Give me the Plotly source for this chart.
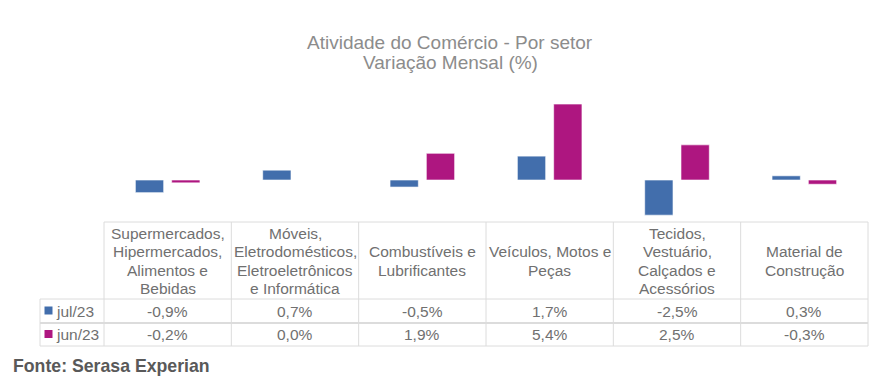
import plotly.graph_objects as go

# ---- data ----
categories = [
    "Supermercados, Hipermercados, Alimentos e Bebidas",
    "Móveis, Eletrodomésticos, Eletroeletrônicos e Informática",
    "Combustíveis e Lubrificantes",
    "Veículos, Motos e Peças",
    "Tecidos, Vestuário, Calçados e Acessórios",
    "Material de Construção",
]
category_labels = [
    ["Supermercados,", "Hipermercados,", "Alimentos e", "Bebidas"],
    ["Móveis,", "Eletrodomésticos,", "Eletroeletrônicos", "e Informática"],
    ["Combustíveis e", "Lubrificantes"],
    ["Veículos, Motos e", "Peças"],
    ["Tecidos,", "Vestuário,", "Calçados e", "Acessórios"],
    ["Material de", "Construção"],
]
series_names = ["jul/23", "jun/23"]
jul23 = [-0.9, 0.7, -0.5, 1.7, -2.5, 0.3]
jun23 = [-0.2, 0.0, 1.9, 5.4, 2.5, -0.3]
series_values = [jul23, jun23]
colors = ["#426EAC", "#AE1680"]

title_lines = ["Atividade do Comércio - Por setor", "Variação Mensal (%)"]
source_text = "<b>Fonte: Serasa Experian</b>"

# ---- geometry helpers (pixels -> paper) ----
W_PX, H_PX = 870, 378
L, R, T, B = 104, 868, 90, 222


def px(x):
    return (x - L) / (R - L)


def py(y):
    return (B - y) / (B - T)


FONT = "Liberation Sans, Arial, sans-serif"
TXT = "#707070"
GRID = "#DCDCDC"
TS = 15.5

fig = go.Figure()
for name, vals, col in zip(series_names, series_values, colors):
    fig.add_trace(go.Bar(
        x=categories, y=vals, name=name,
        marker=dict(color=col, line=dict(color="rgba(255,255,255,0.6)", width=1)),
        hoverinfo="skip",
    ))

shapes = []
annotations = []

# table grid
col_edges = [L + i * (R - L) / 6 for i in range(7)]
row_header_top, row_sep1, row_sep2, row_bottom = 222, 299, 323, 346
legend_left = 40


def hline(x0, x1, y, w=1):
    shapes.append(dict(type="line", xref="paper", yref="paper",
                       x0=px(x0), x1=px(x1), y0=py(y), y1=py(y),
                       line=dict(color=GRID, width=w)))


def vline(x, y0, y1, w=1):
    shapes.append(dict(type="line", xref="paper", yref="paper",
                       x0=px(x), x1=px(x), y0=py(y0), y1=py(y1),
                       line=dict(color=GRID, width=w)))


hline(L, R, row_header_top)
hline(legend_left, R, row_sep1)
hline(legend_left, R, row_sep2, 2)
hline(legend_left, R, row_bottom)
for xe in col_edges:
    vline(xe, row_header_top, row_bottom)
vline(legend_left, row_sep1, row_bottom)

# header labels (one annotation per line for tight spacing)
LINE_H = 18.3
hc = (row_header_top + row_sep1) / 2 + 0.5
for cat, lines in zip(categories, category_labels):
    n = len(lines)
    for i, ln in enumerate(lines):
        yc = hc + (i - (n - 1) / 2) * LINE_H
        annotations.append(dict(x=cat, xref="x", y=py(yc), yref="paper", text=ln,
                                showarrow=False, xanchor="center", yanchor="middle",
                                font=dict(family=FONT, size=TS, color=TXT)))

# value rows
row_centers = [(row_sep1 + row_sep2) / 2, (row_sep2 + row_bottom) / 2]
for name, vals, col, yc in zip(series_names, series_values, colors, row_centers):
    for cat, v in zip(categories, vals):
        annotations.append(dict(x=cat, xref="x", y=py(yc), yref="paper",
                                text=f"{v:.1f}".replace(".", ",") + "%",
                                showarrow=False, xanchor="center", yanchor="middle",
                                font=dict(family=FONT, size=TS, color=TXT)))
    # legend key
    shapes.append(dict(type="rect", xref="paper", yref="paper",
                       x0=px(44.5), x1=px(52.5), y0=py(yc - 4.5), y1=py(yc + 3.5),
                       fillcolor=col, line=dict(width=0)))
    annotations.append(dict(x=px(54), xref="paper", y=py(yc), yref="paper",
                            text=name, showarrow=False, xanchor="left", yanchor="middle",
                            font=dict(family=FONT, size=TS, color=TXT)))

# title
for ln, yc in zip(title_lines, [42, 63]):
    annotations.append(dict(x=px(450), xref="paper", y=py(yc), yref="paper",
                            text=ln, showarrow=False, xanchor="center", yanchor="middle",
                            font=dict(family=FONT, size=19, color="#8C8C8C")))
# source
annotations.append(dict(x=px(11), xref="paper", y=py(366), yref="paper",
                        text=source_text, showarrow=False, xanchor="left", yanchor="middle",
                        font=dict(family=FONT, size=17.7, color="#595959")))

fig.update_layout(
    width=W_PX, height=H_PX, autosize=False,
    margin=dict(l=L, r=W_PX - R, t=T, b=H_PX - B, pad=0),
    paper_bgcolor="white", plot_bgcolor="white",
    barmode="group", bargap=0.43, bargroupgap=0.22,
    showlegend=False,
    xaxis=dict(visible=False, type="category", range=[-0.5, 5.5]),
    yaxis=dict(visible=False, range=[-2.985, 6.4], zeroline=False, showgrid=False),
    shapes=shapes, annotations=annotations,
)

fig.write_html("out.html", config={"displayModeBar": False},
               post_script="document.body.style.margin='0px';document.body.style.overflow='hidden';")
